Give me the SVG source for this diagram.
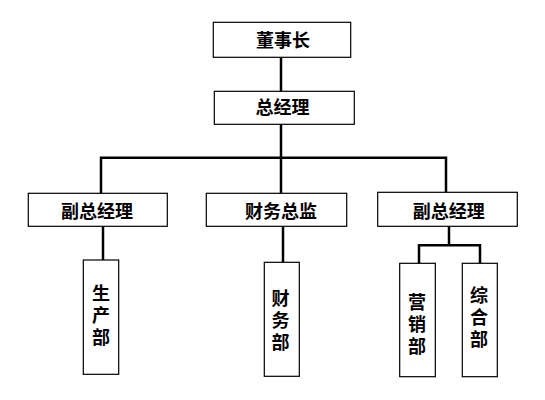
<svg xmlns="http://www.w3.org/2000/svg" width="545" height="400" viewBox="0 0 545 400">
<style>
.box{fill:#fff;stroke:#000;stroke-width:1.2}
.t{font-family:"Noto Sans CJK SC",sans-serif;font-size:18px;font-weight:bold;fill:#000;text-anchor:middle}
.v{writing-mode:vertical-rl;letter-spacing:4px}
.c{fill:none;stroke:#000;stroke-width:2.5}
</style>
<rect width="545" height="400" fill="#fff"/>
<g id="connectors">
<path class="c" d="M281 57.3V91.3"/>
<path class="c" d="M281 124.3V157.7M101 157.7H446M101 156.5V193.3M281 157.7V193.3M446 156.5V192.3"/>
<path class="c" d="M103 226.3V260"/>
<path class="c" d="M283 226.3V262.3"/>
<path class="c" d="M449 226.3V245.3M419 245.3H480M419 244V263.3M480 244V263.3"/>
</g>
<g id="n1"><rect class="box" x="213.3" y="22.3" width="137.4" height="35"/><text class="t" x="283" y="46.8">董事长</text></g>
<g id="n2"><rect class="box" x="214.3" y="91.3" width="140" height="33"/><text class="t" x="282.5" y="114.3">总经理</text></g>
<g id="n3"><rect class="box" x="28.3" y="193.3" width="139" height="33"/><text class="t" x="97" y="218.3">副总经理</text></g>
<g id="n4"><rect class="box" x="206.3" y="193.3" width="140.4" height="33"/><text class="t" x="281" y="218.3">财务总监</text></g>
<g id="n5"><rect class="box" x="377.7" y="192.3" width="139.6" height="34"/><text class="t" x="448.7" y="218.3">副总经理</text></g>
<g id="n6"><rect class="box" x="83.3" y="260" width="35.4" height="114.3"/><text class="t v" x="101" y="317">生产部</text></g>
<g id="n7"><rect class="box" x="264.3" y="262.3" width="35" height="114"/><text class="t v" x="280.5" y="322">财务部</text></g>
<g id="n8"><rect class="box" x="399.7" y="263.3" width="35.6" height="113.4"/><text class="t v" x="417" y="326">营销部</text></g>
<g id="n9"><rect class="box" x="462.3" y="263.3" width="35" height="113.4"/><text class="t v" x="479" y="318.7">综合部</text></g>
</svg>
